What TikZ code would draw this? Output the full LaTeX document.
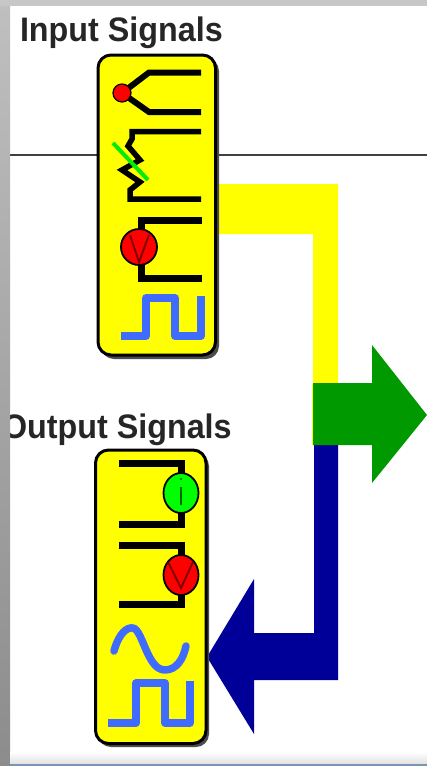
\documentclass[tikz,border=0pt]{standalone}
\usepackage{fontspec}
\setmainfont[FakeStretch=0.95]{Liberation Sans}
\usetikzlibrary{shapes.geometric}
\definecolor{ybox}{HTML}{FFFF00}
\definecolor{bsig}{HTML}{3F6CFF}
\definecolor{garr}{HTML}{009900}
\definecolor{barr}{HTML}{000099}
\definecolor{dred}{HTML}{7A0000}
\definecolor{dgrn}{HTML}{006600}
\definecolor{lgrn}{HTML}{00EE00}
\definecolor{winline}{HTML}{7A94B8}
\tikzset{
  panel/.style={draw=black,line width=3pt,fill=ybox,rounded corners=13pt},
  panelshadow/.style={fill=black!70,rounded corners=13pt},
  wire/.style={draw=black,line width=7pt,line join=miter},
  sig/.style={draw=bsig,line width=7.5pt,line join=round},
  meter/.style={draw=black,line width=1.8pt},
  title/.style={font=\bfseries\fontsize{34}{34}\selectfont,text=black!85,anchor=base west,inner sep=0pt,outer sep=0pt},
}
\begin{document}
\begin{tikzpicture}[x=1pt,y=-1pt]
\useasboundingbox (0,0) rectangle (427,766);
\fill[white] (0,0) rectangle (427,766);
% rule
\draw[black!75,line width=1.5pt] (10,155) -- (427,155);
% yellow, then green and blue arrows
\fill[ybox] (217,184) -- (338,184) -- (338,384) -- (313,384) -- (313,234) -- (217,234) -- cycle;
\fill[ybox] (312,384) rectangle (314,445);
\fill[barr] (314,445) -- (338,445) -- (338,680) -- (254,680) -- (254,734) -- (207,657) -- (254,579) -- (254,633) -- (314,633) -- cycle;
\fill[garr] (313,383) -- (372,383) -- (372,345) -- (427,415) -- (372,483) -- (372,445) -- (313,445) -- cycle;
% titles
\node[title] (t1) at (20,41.5) {Input Signals};
\node[title] (t2) at (2,438) {Output Signals};
% panel 1
\fill[panelshadow] (101,58) rectangle (219,359);
\draw[panel] (98,55) rectangle (215.5,355);
\draw[wire,line width=6pt] (201,72.5) -- (149,72.5) -- (122,93) -- (149,112) -- (201,112);
\node[circle,draw=black,line width=1.2pt,fill=red,minimum size=18pt,inner sep=0pt] (dot) at (122,93) {};
\draw[wire,line width=5.5pt] (201,131.5) -- (132,131.5) -- (132,139) -- (128,146) -- (140,160) -- (122,170) -- (140,182) -- (130,190) -- (130,199) -- (201,199);
\draw[lgrn,line width=4pt] (113,143) -- (148,180);
\draw[wire] (202,220) -- (141,220) -- (141,278) -- (202,278);
\node[circle,meter,fill=red,minimum size=36pt,inner sep=0pt] (mv1) at (139,247) {};
\draw[dred,line width=1.8pt] (130,235) -- (139,262) -- (149,235);
\draw[sig] (121,336) -- (146,336) -- (146,298) -- (175,298) -- (175,336) -- (201,336) -- (201,296);
% panel 2
\fill[panelshadow] (98,453) rectangle (209,747);
\draw[panel] (95.5,450) rectangle (206,743.5);
\draw[wire] (119,463) -- (181,463) -- (181,524) -- (119,524);
\node[ellipse,meter,fill=green,minimum width=35pt,minimum height=40pt,inner sep=0pt] (mi) at (181,493) {};
\draw[dgrn,line width=1.8pt] (181,487) -- (181,505);
\fill[dgrn] (181,479) circle (1.2pt);
\draw[wire] (119,545) -- (181,545) -- (181,604) -- (119,604);
\node[ellipse,meter,fill=red,minimum width=35pt,minimum height=40pt,inner sep=0pt] (mv2) at (181,575) {};
\draw[dred,line width=1.8pt] (168,562) -- (181,588) -- (193,562);
\draw[sig,line cap=round] (114,651) .. controls (119,633) and (127,627) .. (133,628) .. controls (143,630) and (147,670) .. (165,670) .. controls (176,670) and (183,660) .. (186,646);
\draw[sig] (108,723) -- (136,723) -- (136,683) -- (165,683) -- (165,723) -- (190,723) -- (190,681);
% window edges
\shade[top color=black!25,bottom color=black!45] (0,0) rectangle (10,766);
\fill[black!22] (0,0) rectangle (427,6);
\shade[top color=white,bottom color=black!12] (10,752) rectangle (427,764);
\fill[winline] (10,764) rectangle (427,766);
\end{tikzpicture}
\end{document}
